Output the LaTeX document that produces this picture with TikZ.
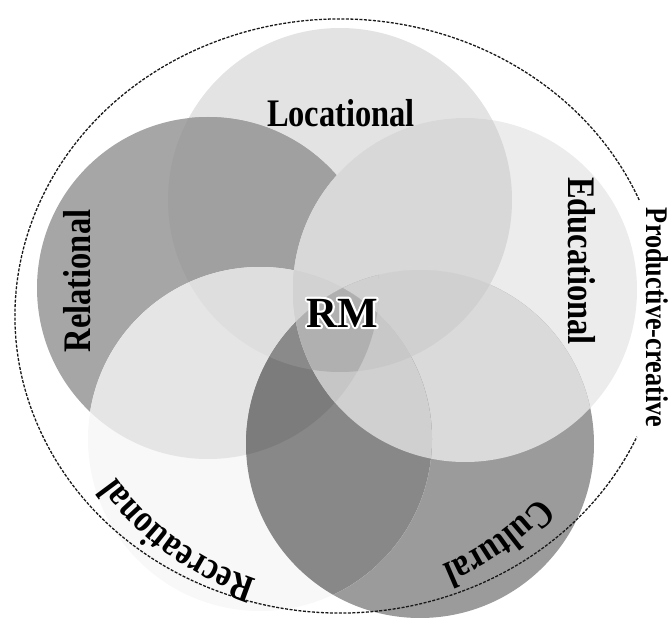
\documentclass[tikz,border=0pt]{standalone}
\usepackage{fontspec}
\setmainfont{Liberation Serif}
\newfontfamily\labfont{Liberation Serif}[FakeStretch=0.833]
\usetikzlibrary{decorations.text}
\definecolor{g227}{RGB}{227,227,227}
\definecolor{g169}{RGB}{166,166,166}
\definecolor{g236}{RGB}{236,236,236}
\definecolor{g155}{RGB}{155,155,155}
\definecolor{g248}{RGB}{248,248,248}
\definecolor{g162}{RGB}{160,160,160}
\definecolor{g216}{RGB}{216,216,216}
\definecolor{g208}{RGB}{208,208,208}
\definecolor{g222}{RGB}{222,222,222}
\definecolor{g124}{RGB}{124,124,124}
\definecolor{g229}{RGB}{229,229,229}
\definecolor{g218}{RGB}{218,218,218}
\definecolor{g210}{RGB}{210,210,210}
\definecolor{g136}{RGB}{136,136,136}
\definecolor{g150}{RGB}{150,150,150}
\definecolor{g170}{RGB}{170,170,170}
\definecolor{g190}{RGB}{190,190,190}
\definecolor{g138}{RGB}{138,138,138}
\definecolor{g200}{RGB}{200,200,200}
\definecolor{g198}{RGB}{198,198,198}
\definecolor{g176}{RGB}{176,176,176}
\newcommand\cirL{(340,-200) circle[radius=172pt]}
\newcommand\cirRl{(208,-288) circle[radius=171pt]}
\newcommand\cirE{(465,-290) circle[radius=172pt]}
\newcommand\cirC{(420,-444) circle[radius=174pt]}
\newcommand\cirRc{(260,-439) circle[radius=172pt]}
\newcommand\onereg[2]{\fill[fill=#2] #1;}
\newcommand\tworeg[3]{\begin{scope}\clip #1;\fill[fill=#3] #2;\end{scope}}
\newcommand\threereg[4]{\begin{scope}\clip #1;\clip #2;\fill[fill=#4] #3;\end{scope}}
\newcommand\fourreg[5]{\begin{scope}\clip #1;\clip #2;\clip #3;\fill[fill=#5] #4;\end{scope}}
\newcommand\fivereg[6]{\begin{scope}\clip #1;\clip #2;\clip #3;\clip #4;\fill[fill=#6] #5;\end{scope}}
\newcommand\labA{\labfont\bfseries\fontsize{39}{45}\selectfont}
\newcommand\haloRM{\rlap{\color{white}\special{pdf:code q 2 Tr 4.2 w 1 J 1 j}RM\special{pdf:code Q}}RM}
\tikzset{
  lab/.style={font=\labA, inner sep=0pt, anchor=base},
  smalllab/.style={font={\labfont\bfseries\fontsize{31.5}{37}\selectfont}, inner sep=0pt, anchor=base},
  rmlab/.style={font={\bfseries\fontsize{43}{48}\selectfont}, inner sep=0pt, anchor=base},
  outline/.style={line width=1.3pt, dash pattern=on 3pt off 1.5pt, black!90}
}
\begin{document}
\begin{tikzpicture}[x=1pt,y=1pt]
\useasboundingbox (0,0) rectangle (670,-618);
\begin{scope}
\clip (0,0) rectangle (670,-618);
% single circles
\onereg{\cirL}{g227}
\onereg{\cirRl}{g169}
\onereg{\cirE}{g236}
\onereg{\cirC}{g155}
\onereg{\cirRc}{g248}
% pairs
\tworeg{\cirL}{\cirRl}{g162}
\tworeg{\cirL}{\cirE}{g216}
\tworeg{\cirL}{\cirC}{g208}
\tworeg{\cirL}{\cirRc}{g222}
\tworeg{\cirRl}{\cirE}{g216}
\tworeg{\cirRl}{\cirC}{g124}
\tworeg{\cirRl}{\cirRc}{g229}
\tworeg{\cirE}{\cirC}{g218}
\tworeg{\cirE}{\cirRc}{g210}
\tworeg{\cirC}{\cirRc}{g136}
% triples
\threereg{\cirL}{\cirRl}{\cirE}{g216}
\threereg{\cirL}{\cirRl}{\cirC}{g150}
\threereg{\cirL}{\cirRl}{\cirRc}{g222}
\threereg{\cirL}{\cirE}{\cirC}{g208}
\threereg{\cirL}{\cirE}{\cirRc}{g208}
\threereg{\cirL}{\cirC}{\cirRc}{g170}
\threereg{\cirRl}{\cirE}{\cirC}{g190}
\threereg{\cirRl}{\cirE}{\cirRc}{g210}
\threereg{\cirRl}{\cirC}{\cirRc}{g124}
\threereg{\cirE}{\cirC}{\cirRc}{g208}
% quadruples
\fourreg{\cirL}{\cirRl}{\cirE}{\cirC}{g208}
\fourreg{\cirL}{\cirRl}{\cirE}{\cirRc}{g210}
\fourreg{\cirL}{\cirRl}{\cirC}{\cirRc}{g138}
\fourreg{\cirL}{\cirE}{\cirC}{\cirRc}{g200}
\fourreg{\cirRl}{\cirE}{\cirC}{\cirRc}{g198}
% all five
\fivereg{\cirL}{\cirRl}{\cirE}{\cirC}{\cirRc}{g176}
\end{scope}
% outer dashed ellipse with a gap for the side label
\draw[outline] (340,-316) ++(23:325pt and 297pt)
  arc[start angle=23, end angle=336, x radius=325pt, y radius=297pt];
% straight labels
\node[lab] (loc) at (341,-126) {Locational};
\node[lab, rotate=90] (rel) at (90,-281) {Relational};
\node[lab, rotate=-90] (edu) at (568,-261) {Educational};
\node[smalllab, rotate=-90] (prod) at (646,-317.5) {Productive-creative};
% curved labels
\path[decorate, decoration={text along path, text={|\labA|Recreational}, text align=center}]
  (340,-316) ++(275:276pt) arc[start angle=275, end angle=193, radius=276pt];
\path[decorate, decoration={text along path, text={|\labA|Cultural}, text align=center}]
  (340,-316) ++(345:269pt) arc[start angle=345, end angle=265, radius=269pt];
% RM with a white glow (stroked white copy under the black text)
\node[rmlab] (rm) at (342,-327) {\haloRM};
\end{tikzpicture}
\end{document}
